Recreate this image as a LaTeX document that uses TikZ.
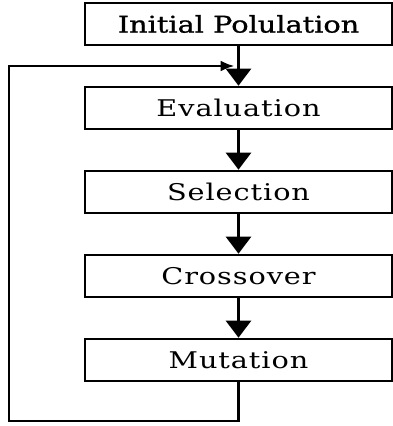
\documentclass[tikz,border=0pt]{standalone}
\usepackage{fontspec}
\setmainfont{DejaVu Serif}[LetterSpace=4,FakeStretch=1.25]
\usetikzlibrary{arrows.meta}
\tikzstyle{stage} = [rectangle, minimum width=307pt, minimum height=42pt, text centered, draw=black, line width=2.6pt, font=\fontsize{23}{26}\selectfont]
\tikzstyle{arrow} = [line width=2.6pt,-{Triangle[width=25pt,length=17pt]}]
\tikzstyle{feedback} = [line width=2.6pt,-{Latex[width=11pt,length=14pt]},shorten >=4pt]

\begin{document}
\begin{tikzpicture}[x=1pt,y=-1pt,node distance=84pt]
    \useasboundingbox (0,0) rectangle (393,426);
    \node (init) [stage] at (238.5,24) {\addfontfeature{LetterSpace=0,FakeBold=1}Initial Polulation};
    \node (eval) [stage, below of=init] {Evaluation};
    \node (sel) [stage, below of=eval] {Selection};
    \node (cross) [stage, below of=sel] {Crossover};
    \node (mut) [stage, below of=cross] {Mutation};
    \coordinate (join) at (238.5,66);
    \coordinate (corner) at (9,421);

    \draw [arrow] (init) -- (eval);
    \draw [arrow] (eval) -- (sel);
    \draw [arrow] (sel) -- (cross);
    \draw [arrow] (cross) -- (mut);
    \draw [feedback] (mut.south) |- (corner) |- (join);

\end{tikzpicture}
\end{document}
